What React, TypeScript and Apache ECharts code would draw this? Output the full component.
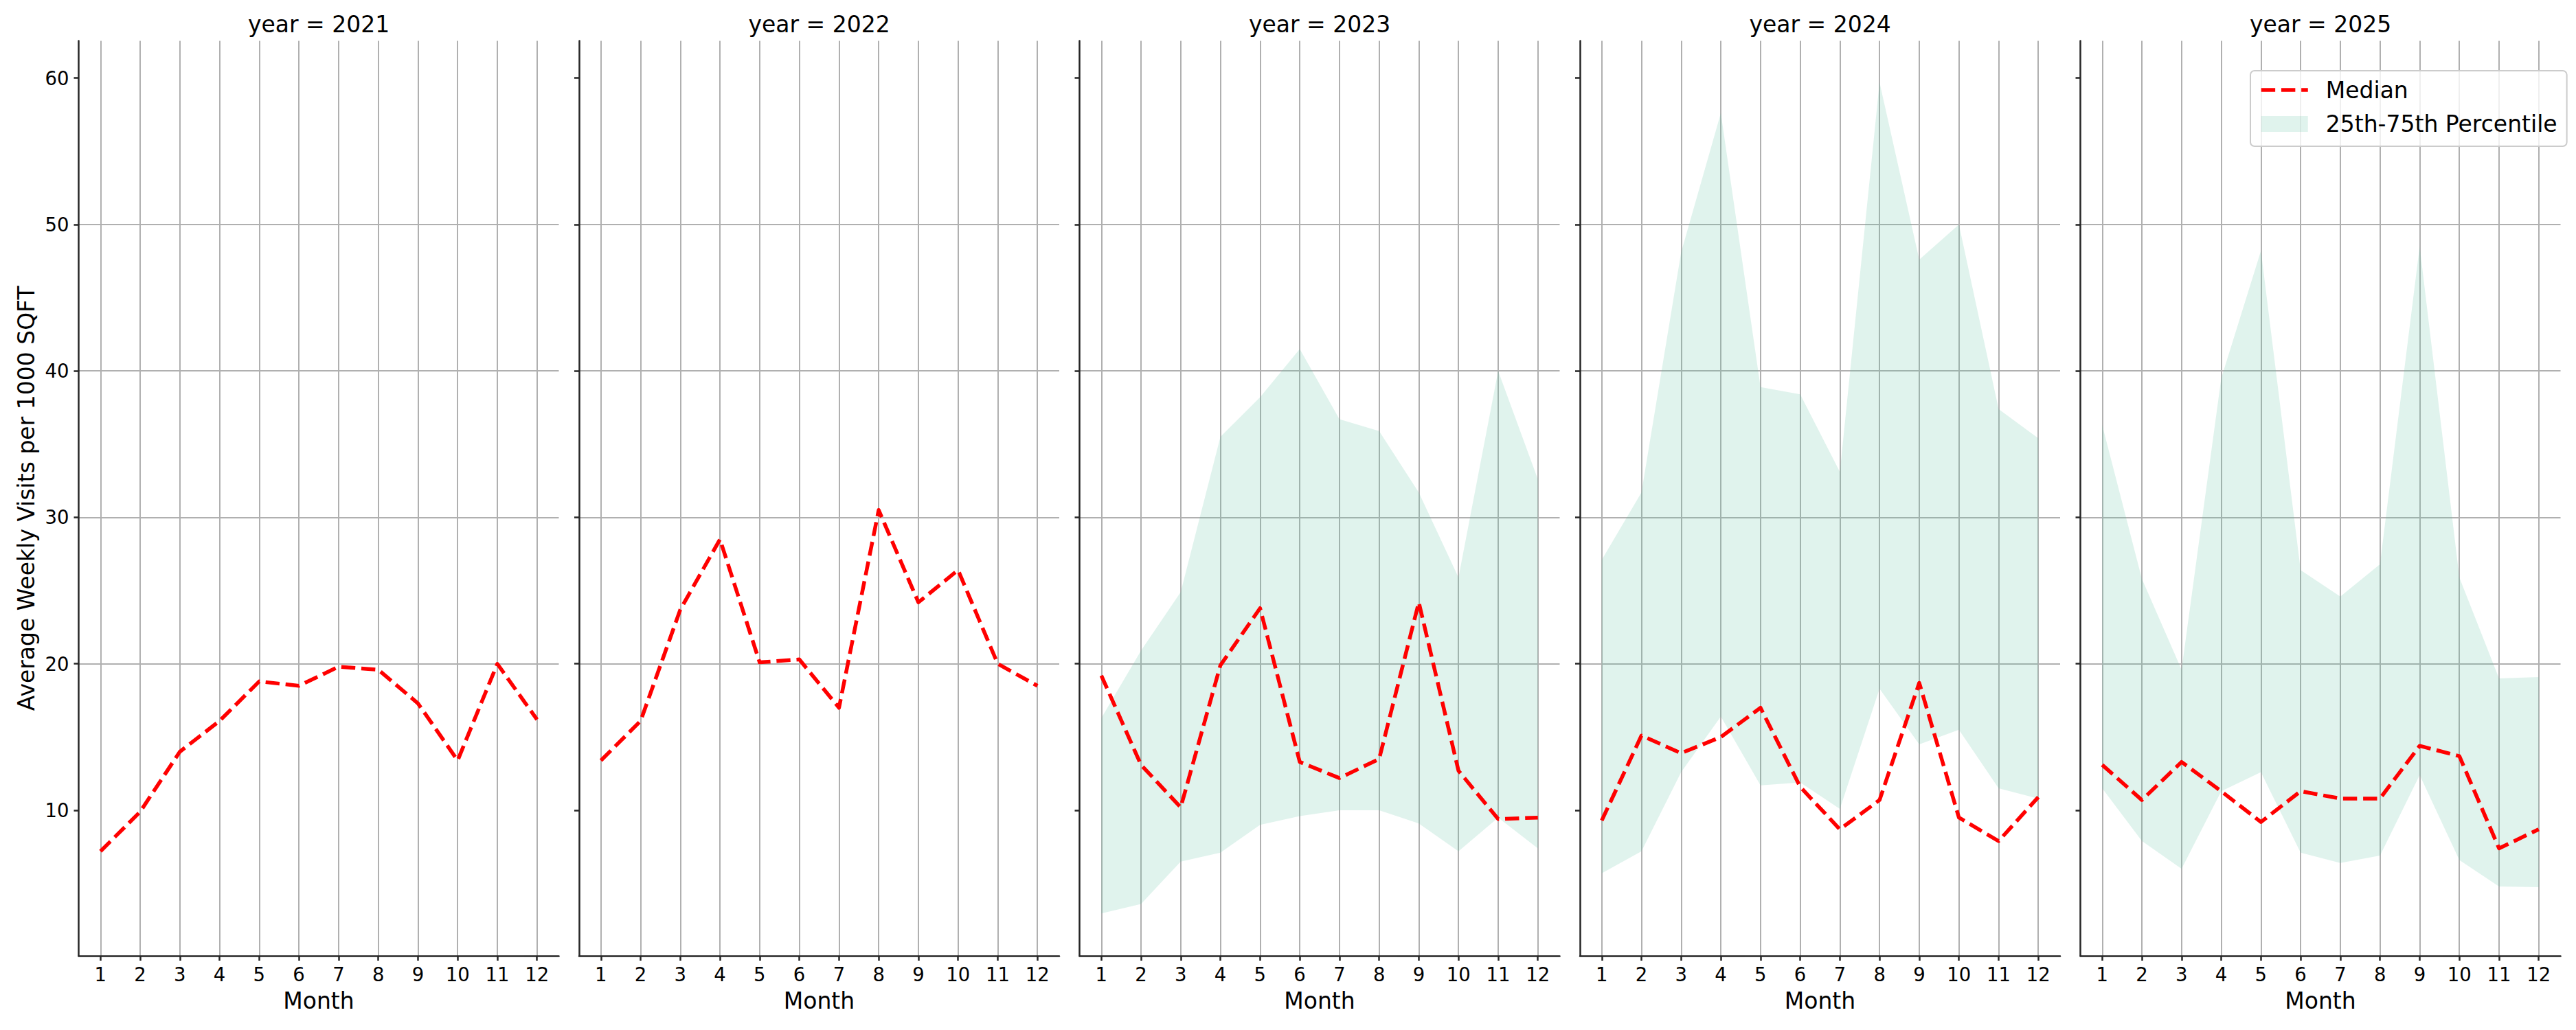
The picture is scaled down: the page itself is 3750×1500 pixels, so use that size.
import React, { useEffect, useRef } from "react";
import * as echarts from "echarts";

const months = [1, 2, 3, 4, 5, 6, 7, 8, 9, 10, 11, 12];
const years = ["2021", "2022", "2023", "2024", "2025"];
const yTicks = [10, 20, 30, 40, 50, 60];

const median2021 = [7.2, 9.9, 14.0, 16.1, 18.8, 18.5, 19.8, 19.6, 17.3, 13.4, 20.0, 16.2];
const median2022 = [13.4, 16.1, 23.7, 28.5, 20.1, 20.3, 17.0, 30.5, 24.2, 26.4, 20.0, 18.5];
const median2023 = [19.2, 13.1, 10.2, 19.9, 23.8, 13.3, 12.2, 13.5, 24.2, 12.7, 9.4, 9.5];
const median2024 = [9.3, 15.1, 13.9, 15.0, 17.0, 11.6, 8.7, 10.7, 18.7, 9.5, 7.9, 10.9];
const median2025 = [13.1, 10.7, 13.3, 11.3, 9.2, 11.3, 10.8, 10.8, 14.4, 13.7, 7.4, 8.7];

const p25_2023 = [2.95, 3.6, 6.5, 7.1, 9.0, 9.6, 10.0, 10.0, 9.1, 7.2, 9.5, 7.4];
const p75_2023 = [16.3, 20.9, 24.9, 35.5, 38.2, 41.5, 36.7, 35.9, 31.7, 25.9, 40.0, 32.6];
const p25_2024 = [5.7, 7.2, 12.6, 16.4, 11.7, 11.9, 10.1, 18.3, 14.5, 15.5, 11.5, 10.8];
const p75_2024 = [27.1, 31.7, 48.1, 57.6, 38.9, 38.4, 33.1, 59.7, 47.6, 50.0, 37.4, 35.4];
const p25_2025 = [11.5, 7.9, 6.0, 11.3, 12.6, 7.1, 6.4, 6.9, 12.4, 6.6, 4.8, 4.75];
const p75_2025 = [36.3, 25.8, 19.6, 39.5, 48.2, 26.4, 24.6, 26.8, 48.5, 25.9, 19.0, 19.1];

const medians = [median2021, median2022, median2023, median2024, median2025];
const lowers: (number[] | null)[] = [null, null, p25_2023, p25_2024, p25_2025];
const uppers: (number[] | null)[] = [null, null, p75_2023, p75_2024, p75_2025];

const FONT = "DejaVu Sans";
const BAND = "rgba(102,194,165,0.2)";
const RED = "#ff0000";
const SPINE = "#262626";
const GRIDC = "#b0b0b0";
const DASH = [20.4, 8.8];

export default function App() {
  const ref = useRef<HTMLDivElement>(null);
  useEffect(() => {
    document.body.style.margin = "0";
    const chart = echarts.init(ref.current!, null, { renderer: "svg" });
    const left0 = 114.5;
    const step = 728.5;
    const w = 699;
    const top = 59.5;
    const h = 1332.5;

    const grids: any[] = [];
    const xAxes: any[] = [];
    const yAxes: any[] = [];
    const titles: any[] = [];
    const series: any[] = [];

    years.forEach((yr, i) => {
      const left = left0 + step * i;
      grids.push({ left, top, width: w, height: h, containLabel: false });
      titles.push({
        text: "year = " + yr,
        left: left + w / 2,
        top: 19,
        padding: 0,
        textAlign: "center",
        textStyle: { fontFamily: FONT, fontSize: 33, fontWeight: "normal", color: "#000" },
      });
      xAxes.push({
        type: "value",
        gridIndex: i,
        min: 0.45,
        max: 12.55,
        name: "Month",
        nameLocation: "middle",
        nameGap: 49,
        nameTextStyle: { fontFamily: FONT, fontSize: 33, color: "#000" },
        axisLine: { show: true, onZero: false, lineStyle: { color: SPINE, width: 2.5 } },
        axisTick: { show: true, length: 7, lineStyle: { color: SPINE, width: 2.5 }, customValues: months },
        axisLabel: {
          show: true,
          customValues: months,
          margin: 13,
          fontFamily: FONT,
          fontSize: 27.5,
          color: "#000",
        },
        splitLine: { show: true, lineStyle: { color: GRIDC, width: 2 }, showMinLine: true, showMaxLine: true },
      });
      yAxes.push({
        type: "value",
        gridIndex: i,
        min: 0.06,
        max: 62.54,
        name: i === 0 ? "Average Weekly Visits per 1000 SQFT" : "",
        nameLocation: "middle",
        nameGap: 60,
        nameTextStyle: { fontFamily: FONT, fontSize: 33, color: "#000" },
        axisLine: { show: true, onZero: false, lineStyle: { color: SPINE, width: 2.5 } },
        axisTick: { show: true, length: 7, lineStyle: { color: SPINE, width: 2.5 }, customValues: yTicks },
        axisLabel: {
          show: i === 0,
          customValues: yTicks,
          margin: 14,
          fontFamily: FONT,
          fontSize: 27.5,
          color: "#000",
        },
        splitLine: { show: true, lineStyle: { color: GRIDC, width: 2 }, showMinLine: false, showMaxLine: false },
      });

      const lo = lowers[i];
      const hi = uppers[i];
      if (lo && hi) {
        series.push({
          type: "custom",
          name: "25th-75th Percentile",
          xAxisIndex: i,
          yAxisIndex: i,
          z: 1,
          itemStyle: { color: BAND },
          data: months.map((m, k) => [m, lo[k], hi[k]]),
          renderItem: (params: any, api: any) => {
            if (params.dataIndex !== 0) return null;
            const pts: number[][] = [];
            for (let k = 0; k < months.length; k++) pts.push(api.coord([months[k], hi[k]]));
            for (let k = months.length - 1; k >= 0; k--) pts.push(api.coord([months[k], lo[k]]));
            return { type: "polygon", shape: { points: pts }, style: { fill: BAND } };
          },
        });
      }
      const med = medians[i];
      series.push({
        type: "line",
        name: "Median",
        xAxisIndex: i,
        yAxisIndex: i,
        z: 3,
        symbol: "none",
        showSymbol: false,
        data: months.map((m, k) => [m, med[k]]),
        itemStyle: { color: RED },
        lineStyle: { color: RED, width: 5.5, type: DASH, cap: "butt", join: "round" },
      });
    });

    chart.setOption({
      animation: false,
      backgroundColor: "#ffffff",
      title: titles,
      grid: grids,
      xAxis: xAxes,
      yAxis: yAxes,
      series,
      legend: {
        show: true,
        orient: "vertical",
        left: 3276,
        top: 103,
        padding: [11.5, 14, 16, 13],
        itemGap: 16.5,
        itemWidth: 68,
        itemHeight: 23,
        backgroundColor: "rgba(255,255,255,0.8)",
        borderColor: "#cccccc",
        borderWidth: 2,
        borderRadius: 6,
        selectedMode: false,
        data: [
          {
            name: "Median",
            itemStyle: { color: "rgba(0,0,0,0)", borderColor: "rgba(0,0,0,0)", borderWidth: 0 },
            lineStyle: { color: RED, width: 5.5, type: DASH, cap: "butt", opacity: 1 },
          },
          { name: "25th-75th Percentile", icon: "rect" },
        ],
        textStyle: {
          fontFamily: FONT,
          fontSize: 33,
          lineHeight: 33,
          color: "#000",
          padding: [0, 0, 0, 21],
        },
      },
    });
    return () => chart.dispose();
  }, []);
  return <div ref={ref} style={{ width: 3750, height: 1500 }} />;
}
